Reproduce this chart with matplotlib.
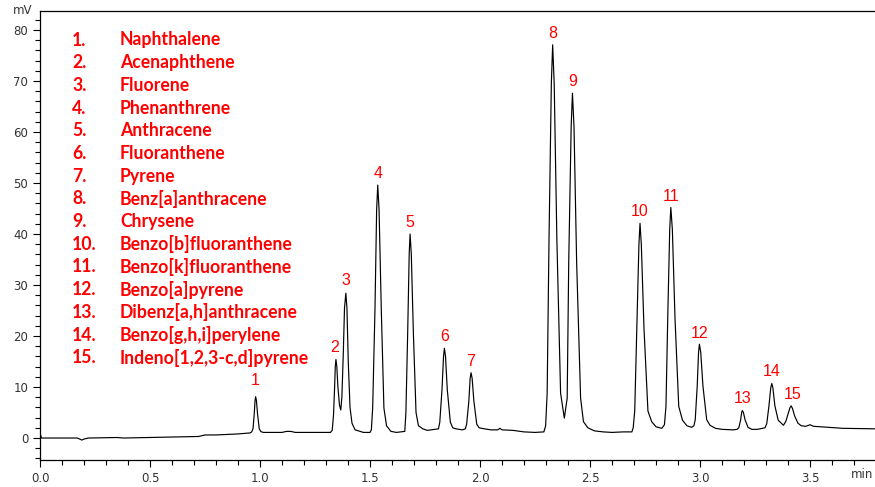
import matplotlib
matplotlib.use("Agg")
import matplotlib.pyplot as plt
from matplotlib.ticker import MultipleLocator

# chromatogram trace (time in min, signal in mV)
t = [0.000, 0.003, 0.006, 0.170, 0.190, 0.200, 0.220, 0.350, 0.380, 0.500, 0.600,
     0.720, 0.750, 0.800, 0.900, 0.955,
     0.962, 0.968, 0.9735, 0.9775, 0.980, 0.9835, 0.989, 0.9966, 1.004, 1.015,
     1.100, 1.120, 1.140, 1.160, 1.250, 1.320,
     1.328, 1.334, 1.339, 1.342, 1.345, 1.349, 1.354, 1.361, 1.367, 1.372, 1.378,
     1.384, 1.390, 1.395, 1.401, 1.409, 1.418, 1.432, 1.470, 1.500,
     1.506, 1.512, 1.5225, 1.530, 1.535, 1.541, 1.551, 1.563, 1.575, 1.595, 1.620,
     1.658, 1.663, 1.671, 1.678, 1.682, 1.6875, 1.697, 1.709, 1.720, 1.740, 1.760,
     1.811, 1.817, 1.827, 1.834, 1.838, 1.843, 1.851, 1.865, 1.876, 1.890, 1.920,
     1.933, 1.939, 1.949, 1.955, 1.959, 1.964, 1.972, 1.985, 1.996, 2.020,
     2.050, 2.080, 2.090, 2.100, 2.150, 2.200, 2.250, 2.290,
     2.298, 2.305, 2.3135, 2.324, 2.330, 2.337, 2.349, 2.366, 2.383,
     2.396, 2.403, 2.414, 2.420, 2.427, 2.439, 2.457, 2.470, 2.490, 2.520, 2.560,
     2.600, 2.650, 2.690,
     2.696, 2.703, 2.7125, 2.722, 2.727, 2.733, 2.745, 2.763, 2.780, 2.800, 2.826,
     2.838, 2.845, 2.853, 2.862, 2.867, 2.874, 2.886, 2.903, 2.920, 2.940, 2.962,
     2.972, 2.978, 2.987, 2.993, 2.997, 3.003, 3.013, 3.030, 3.045, 3.070, 3.100, 3.150,
     3.168, 3.176, 3.184, 3.189, 3.192, 3.197, 3.205, 3.218, 3.235, 3.260,
     3.295, 3.303, 3.313, 3.321, 3.326, 3.331, 3.340, 3.355, 3.379,
     3.390, 3.402, 3.409, 3.414, 3.420, 3.430, 3.445, 3.460, 3.480, 3.500, 3.515,
     3.550, 3.650, 3.800]
mv = [0.0, 0.6, 0.0, 0.0, -0.4, -0.2, 0.0, 0.1, 0.0, 0.1, 0.2,
      0.3, 0.6, 0.6, 0.8, 1.0,
      1.2, 1.8, 4.6, 7.4, 8.1, 7.4, 4.6, 1.8, 1.25, 1.1,
      1.1, 1.3, 1.3, 1.1, 1.1, 1.1,
      1.5, 4.5, 10.0, 14.0, 15.4, 14.0, 10.0, 6.5, 5.5, 8.0, 16.0,
      25.5, 28.4, 25.5, 15.0, 6.0, 2.9, 1.6, 1.1, 1.1,
      1.6, 5.9, 25.4, 44.8, 49.6, 44.8, 25.4, 5.9, 2.4, 1.3, 1.1,
      1.3, 5.0, 20.5, 36.1, 40.0, 36.1, 20.5, 5.0, 2.4, 1.8, 1.5,
      1.8, 3.1, 9.5, 16.0, 17.6, 16.0, 9.5, 3.1, 2.0, 1.8, 1.6,
      1.8, 2.7, 7.2, 11.7, 12.8, 11.7, 7.2, 2.7, 2.0, 1.8,
      1.6, 1.6, 1.9, 1.6, 1.5, 1.2, 1.1, 1.2,
      2.4, 8.8, 39.2, 69.5, 77.1, 69.5, 39.2, 8.8, 3.9,
      7.8, 34.4, 61.0, 67.6, 61.0, 34.4, 7.8, 3.2, 2.0, 1.4, 1.2,
      1.1, 1.2, 1.2,
      2.0, 5.3, 21.6, 37.9, 42.1, 37.9, 21.6, 5.3, 3.2, 2.2, 1.9,
      2.6, 6.2, 23.5, 40.9, 45.2, 40.9, 23.5, 6.2, 3.5, 2.4, 2.1,
      2.4, 3.6, 10.2, 16.8, 18.4, 16.8, 10.2, 3.6, 2.5, 1.9, 1.7, 1.6,
      1.7, 2.0, 3.5, 5.0, 5.4, 5.0, 3.5, 2.1, 1.7, 1.7,
      2.0, 2.8, 6.3, 9.8, 10.7, 9.8, 6.3, 3.5, 2.5,
      3.3, 5.0, 6.0, 6.3, 5.8, 4.3, 2.9, 2.4, 2.3, 2.6, 2.3,
      2.2, 1.9, 1.8]

# peak apexes and labels
peak_t = [0.980, 1.345, 1.390, 1.535, 1.682, 1.838, 1.959, 2.330, 2.420,
          2.727, 2.867, 2.997, 3.192, 3.326, 3.414]
peak_mv = [8.1, 15.4, 28.4, 49.6, 40.0, 17.6, 12.8, 77.1, 67.6,
           42.1, 45.2, 18.4, 5.4, 10.7, 6.3]
peak_no = [str(i) for i in range(1, 16)]

compounds = ["Naphthalene", "Acenaphthene", "Fluorene", "Phenanthrene",
             "Anthracene", "Fluoranthene", "Pyrene", "Benz[a]anthracene",
             "Chrysene", "Benzo[b]fluoranthene", "Benzo[k]fluoranthene",
             "Benzo[a]pyrene", "Dibenz[a,h]anthracene", "Benzo[g,h,i]perylene",
             "Indeno[1,2,3-c,d]pyrene"]

fig = plt.figure(figsize=(8.75, 4.87), dpi=100)
ax = fig.add_axes([40/875, 1-460/487, 835/875, 449/487])
ax.plot(t, mv, color="black", lw=0.85)
ax.set_xlim(0, 3.795)
ax.set_ylim(-4.31, 83.73)

ax.xaxis.set_major_locator(MultipleLocator(0.5))
ax.xaxis.set_minor_locator(MultipleLocator(0.1))
ax.yaxis.set_major_locator(MultipleLocator(10))
ax.yaxis.set_minor_locator(MultipleLocator(2))
ax.xaxis.set_major_formatter(lambda v, p: f"{v:.1f}")
ax.tick_params(which="both", direction="out", colors="black",
               labelcolor="#333333", labelsize=8.5, width=0.8)
ax.tick_params(which="major", length=5)
ax.tick_params(which="minor", length=3.5)
ax.spines["right"].set_visible(False)
for s in ["top", "left", "bottom"]:
    ax.spines[s].set_linewidth(0.9)

fig.text(13/875, 1-17/487, "mV", fontsize=8.5, color="#333333", ha="left", va="bottom")
fig.text(873/875, 1-481/487, "min", fontsize=8.5, color="#333333", ha="right", va="bottom")

offs = [9, 4, 5, 4, 4, 4, 4, 4, 4, 4, 4, 3, 4, 4, 4]
dx = [0, -1, 0, 0, 0, 0, 0, 0, 0, 0, 0, 0, 0, 0, 1]
for x, y, n, o, d in zip(peak_t, peak_mv, peak_no, offs, dx):
    ax.annotate(n, (x, y), xytext=(d, o*0.72), textcoords="offset points",
                ha="center", va="bottom", color="red", fontsize=11.5,
                family="Liberation Sans")

for i, name in enumerate(compounds):
    yy = 1 - (40 + i*22.7)/487
    fig.text(72/875, yy, f"{i+1}.", color="red", fontsize=12.7, fontweight="bold",
             family="Lato", va="center", ha="left")
    fig.text(120/875, yy, name, color="red", fontsize=12.7, fontweight="bold",
             family="Lato", va="center", ha="left")

fig.savefig("out.png", dpi=100)
